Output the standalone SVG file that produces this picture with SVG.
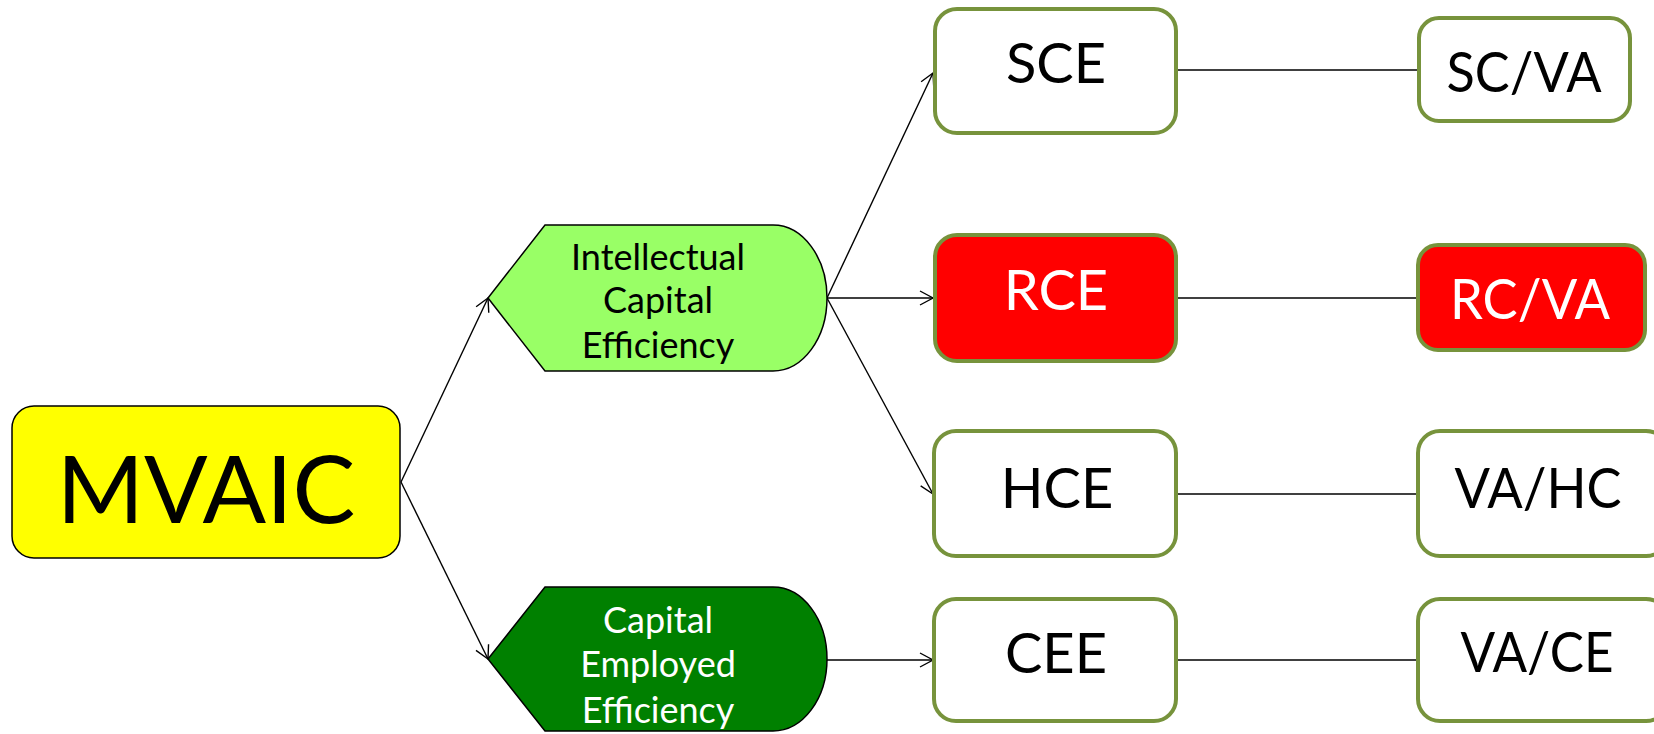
<svg xmlns="http://www.w3.org/2000/svg" width="1654" height="734" viewBox="0 0 1654 734">
<defs>
<style>
.t{font-family:Lato,"Open Sans","Liberation Sans",sans-serif;text-anchor:middle}
.box{fill:#fff;stroke:#77933C;stroke-width:4}
.red{fill:#FF0000;stroke:#77933C;stroke-width:4}
.big{font-size:56px}
.mid{font-size:36px}
.c{stroke:#000;stroke-width:1.4;fill:none}
</style>
<marker id="ah" markerWidth="16" markerHeight="16" refX="14" refY="8" orient="auto" markerUnits="userSpaceOnUse">
<path d="M1,1 L14,8 L1,15" fill="none" stroke="#000" stroke-width="1.4"/>
</marker>
</defs>
<rect width="1654" height="734" fill="#fff"/>
<g id="connectors">
<line class="c" x1="401" y1="482" x2="488" y2="298" marker-end="url(#ah)"/>
<line class="c" x1="401" y1="482" x2="488" y2="659" marker-end="url(#ah)"/>
<line class="c" x1="827" y1="298" x2="933" y2="73" marker-end="url(#ah)"/>
<line class="c" x1="827" y1="298" x2="933" y2="298" marker-end="url(#ah)"/>
<line class="c" x1="827" y1="298" x2="933" y2="494" marker-end="url(#ah)"/>
<line class="c" x1="827" y1="660" x2="933" y2="660" marker-end="url(#ah)"/>
<line class="c" x1="1177" y1="70" x2="1417" y2="70"/>
<line class="c" x1="1178" y1="298" x2="1416" y2="298"/>
<line class="c" x1="1178" y1="494" x2="1416" y2="494"/>
<line class="c" x1="1178" y1="660" x2="1416" y2="660"/>
</g>
<g id="mvaic">
<rect x="12" y="406" width="388" height="152" rx="22" fill="#FFFF00" stroke="#000" stroke-width="1.5"/>
<text class="t" x="206" y="523" font-size="94">MVAIC</text>
</g>
<g id="ice">
<path d="M488,298 L545,225 L773,225 A54,73 0 0 1 773,371 L545,371 Z" fill="#99FF66" stroke="#000" stroke-width="1.5"/>
<text class="t mid" x="658" y="270">Intellectual</text>
<text class="t mid" x="658" y="313">Capital</text>
<text class="t mid" x="658" y="358">Efficiency</text>
</g>
<g id="cee-node">
<path d="M488,659 L545,587 L773,587 A54,72 0 0 1 773,731 L545,731 Z" fill="#008000" stroke="#000" stroke-width="1.5"/>
<text class="t mid" x="658" y="633" fill="#fff">Capital</text>
<text class="t mid" x="658" y="677" fill="#fff">Employed</text>
<text class="t mid" x="658" y="723" fill="#fff">Efficiency</text>
</g>
<g id="sce">
<rect class="box" x="935" y="9" width="241" height="124" rx="22"/>
<text class="t big" x="1056" y="83">SCE</text>
</g>
<g id="scva">
<rect class="box" x="1419" y="18" width="211" height="103" rx="20"/>
<text class="t big" x="1524" y="92" textLength="155" lengthAdjust="spacingAndGlyphs">SC/VA</text>
</g>
<g id="rce">
<rect class="red" x="935" y="235" width="241" height="126" rx="22"/>
<text class="t big" x="1056" y="310" fill="#fff">RCE</text>
</g>
<g id="rcva">
<rect class="red" x="1418" y="245" width="227" height="105" rx="20"/>
<text class="t big" x="1530" y="319" fill="#fff" textLength="160" lengthAdjust="spacingAndGlyphs">RC/VA</text>
</g>
<g id="hce">
<rect class="box" x="934" y="431" width="242" height="125" rx="22"/>
<text class="t big" x="1057" y="508">HCE</text>
</g>
<g id="vahc">
<rect class="box" x="1418" y="431" width="250" height="125" rx="22"/>
<text class="t big" x="1538" y="508" textLength="167" lengthAdjust="spacingAndGlyphs">VA/HC</text>
</g>
<g id="cee">
<rect class="box" x="934" y="599" width="242" height="122" rx="22"/>
<text class="t big" x="1056" y="673">CEE</text>
</g>
<g id="vace">
<rect class="box" x="1418" y="599" width="250" height="122" rx="22"/>
<text class="t big" x="1537" y="672" textLength="153" lengthAdjust="spacingAndGlyphs">VA/CE</text>
</g>
</svg>
